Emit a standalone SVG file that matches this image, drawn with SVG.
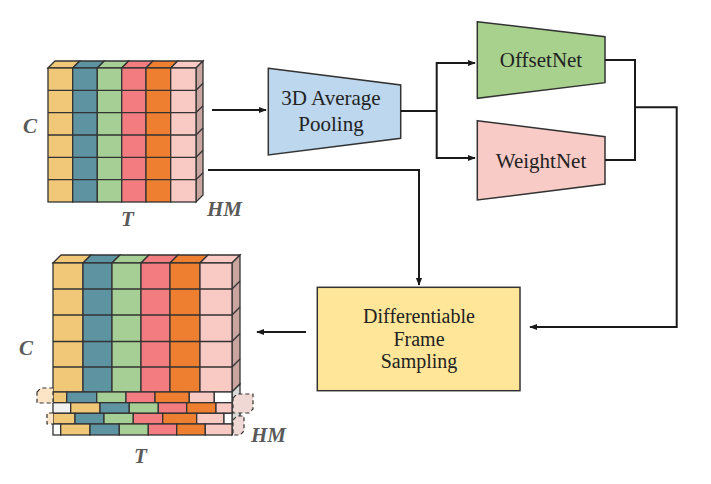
<svg xmlns="http://www.w3.org/2000/svg" width="711" height="484" viewBox="0 0 711 484">
<defs>
<marker id="ah" viewBox="0 0 10 10" refX="9" refY="5" markerWidth="8" markerHeight="8" markerUnits="userSpaceOnUse" orient="auto"><path d="M0,1 L10,5 L0,9 z" fill="#1a1a1a"/></marker>
<style>
.ln{fill:none;stroke:#1a1a1a;stroke-width:2}
.g{stroke:#333;stroke-width:1.3}
.y{fill:#F0C878}.t{fill:#5E93A1}.gr{fill:#A6CF95}.r{fill:#F27C80}.o{fill:#EE7E30}.p{fill:#F9C9C4}.w{fill:#F2F2F2}
.sd{fill:#C9A5A0}
.lbl{font-family:"Liberation Serif",serif;font-size:21px;fill:#222;text-anchor:middle}
.lbs{font-size:20px}
.ax{font-family:"Liberation Serif",serif;font-size:21px;font-weight:bold;font-style:italic;fill:#5A5A5A}
.dsh{stroke:#333;stroke-width:1.2;stroke-dasharray:4,3}
</style>
</defs>
<rect width="711" height="484" fill="#fff"/>

<g id="input-cube">
<g class="g">
<polygon class="y" points="48,68 55,61 79.7,61 72.7,68"/>
<polygon class="t" points="72.7,68 79.7,61 104.3,61 97.3,68"/>
<polygon class="gr" points="97.3,68 104.3,61 128.7,61 121.7,68"/>
<polygon class="r" points="121.7,68 128.7,61 153,61 146,68"/>
<polygon class="o" points="146,68 153,61 177.7,61 170.7,68"/>
<polygon class="p" points="170.7,68 177.7,61 203,61 196,68"/>
<polygon class="sd" points="196,68 203,61 203,195 196,202"/>
<rect class="y" x="48" y="68" width="24.7" height="134"/>
<rect class="t" x="72.7" y="68" width="24.6" height="134"/>
<rect class="gr" x="97.3" y="68" width="24.4" height="134"/>
<rect class="r" x="121.7" y="68" width="24.3" height="134"/>
<rect class="o" x="146" y="68" width="24.7" height="134"/>
<rect class="p" x="170.7" y="68" width="25.3" height="134"/>
</g>
<path class="g" fill="none" d="M48,90.3H196l7,-7 M48,112.7H196l7,-7 M48,135H196l7,-7 M48,157.3H196l7,-7 M48,179.7H196l7,-7"/>
<text class="ax" x="23" y="133">C</text>
<text class="ax" x="121" y="226">T</text>
<text class="ax" x="207" y="216">HM</text>
</g>

<g id="output-cube">
<g class="g">
<polygon class="y" points="53,263 61,255 91,255 83,263"/>
<polygon class="t" points="83,263 91,255 120,255 112,263"/>
<polygon class="gr" points="112,263 120,255 149,255 141,263"/>
<polygon class="r" points="141,263 149,255 178,255 170,263"/>
<polygon class="o" points="170,263 178,255 208,255 200,263"/>
<polygon class="p" points="200,263 208,255 240,255 232,263"/>
<polygon class="sd" points="232,263 240,255 240,384 232,392"/>
<polygon fill="#DADADA" points="232,392 240,384 240,427 232,435"/>
<rect class="y" x="53" y="263" width="30" height="129"/>
<rect class="t" x="83" y="263" width="29" height="129"/>
<rect class="gr" x="112" y="263" width="29" height="129"/>
<rect class="r" x="141" y="263" width="29" height="129"/>
<rect class="o" x="170" y="263" width="30" height="129"/>
<rect class="p" x="200" y="263" width="32" height="129"/>
</g>
<path class="g" fill="none" d="M53,289H232l8,-8 M53,315H232l8,-8 M53,341.5H232l8,-8 M53,367H232l8,-8 M232,402.7l8,-8 M232,413.3l8,-8 M232,424l8,-8"/>
<g class="g">
<rect class="y" x="53" y="392" width="13.7" height="10.7"/>
<rect class="t" x="66.7" y="392" width="30" height="10.7"/>
<rect class="gr" x="96.7" y="392" width="29.3" height="10.7"/>
<rect class="r" x="126" y="392" width="29" height="10.7"/>
<rect class="o" x="155" y="392" width="34.3" height="10.7"/>
<rect class="p" x="189.3" y="392" width="25" height="10.7"/>
<rect fill="#fff" x="214.3" y="392" width="17.7" height="10.7"/>
<rect class="w" x="53" y="402.7" width="17.7" height="10.6"/>
<rect class="y" x="70.7" y="402.7" width="29.3" height="10.6"/>
<rect class="t" x="100" y="402.7" width="29.3" height="10.6"/>
<rect class="gr" x="129.3" y="402.7" width="29" height="10.6"/>
<rect class="r" x="158.3" y="402.7" width="28.4" height="10.6"/>
<rect class="o" x="186.7" y="402.7" width="29.3" height="10.6"/>
<rect class="p" x="216" y="402.7" width="16" height="10.6"/>
<rect class="y" x="53" y="413.3" width="22" height="10.7"/>
<rect class="t" x="75" y="413.3" width="29" height="10.7"/>
<rect class="gr" x="104" y="413.3" width="29.3" height="10.7"/>
<rect class="r" x="133.3" y="413.3" width="29.4" height="10.7"/>
<rect class="o" x="162.7" y="413.3" width="34" height="10.7"/>
<rect class="p" x="196.7" y="413.3" width="27.3" height="10.7"/>
<rect fill="#fff" x="224" y="413.3" width="8" height="10.7"/>
<rect fill="#fff" x="53" y="424" width="7.7" height="11"/>
<rect class="y" x="60.7" y="424" width="29.3" height="11"/>
<rect class="t" x="90" y="424" width="29.3" height="11"/>
<rect class="gr" x="119.3" y="424" width="29" height="11"/>
<rect class="r" x="148.3" y="424" width="28.4" height="11"/>
<rect class="o" x="176.7" y="424" width="28.6" height="11"/>
<rect class="p" x="205.3" y="424" width="26.7" height="11"/>
</g>
<g class="dsh">
<polygon fill="#FBE5C6" points="37,392 41,388 53,388 53,403 37,403"/>
<path fill="#FBE5C6" d="M53,413 L47,413 L47,424 L53,424"/>
<polygon fill="#F0D8D4" points="233,398 237,394 253,394 253,409 249,413 233,413"/>
<polygon fill="#F0D8D4" points="233,420 237,416 244,416 244,431 240,435 233,435"/>
</g>
<text class="ax" x="19" y="355">C</text>
<text class="ax" x="134" y="463">T</text>
<text class="ax" x="251" y="442">HM</text>
</g>

<g id="pooling">
<polygon points="268.3,68.3 400.7,85 400.7,138.3 268.3,155" fill="#BDD7EE" stroke="#333" stroke-width="1.5"/>
<text class="lbl" x="331" y="105">3D Average</text>
<text class="lbl" x="331" y="131">Pooling</text>
</g>

<g id="offsetnet">
<polygon points="477.3,21.7 605,36.7 605,82.7 477.3,98.3" fill="#A9D18E" stroke="#333" stroke-width="1.5"/>
<text class="lbl" x="541" y="67">OffsetNet</text>
</g>

<g id="weightnet">
<polygon points="477.3,120.7 605,136.7 605,184 477.3,200" fill="#F8CBC6" stroke="#333" stroke-width="1.5"/>
<text class="lbl" x="541" y="168">WeightNet</text>
</g>

<g id="sampling">
<rect x="317.3" y="287.3" width="202.7" height="103.4" fill="#FFE699" stroke="#333" stroke-width="1.5"/>
<text class="lbl lbs" x="419" y="323">Differentiable</text>
<text class="lbl lbs" x="419" y="345.5">Frame</text>
<text class="lbl lbs" x="419" y="368">Sampling</text>
</g>

<g id="connectors">
<path class="ln" d="M212,110 H266" marker-end="url(#ah)"/>
<path class="ln" d="M400.7,111 H436.7"/>
<path class="ln" d="M436.7,110 V63 H475" marker-end="url(#ah)"/>
<path class="ln" d="M436.7,110 V158 H475" marker-end="url(#ah)"/>
<path class="ln" d="M605,60 H635 V160 H605"/>
<path class="ln" d="M635,107.3 H676.7 V327 H530" marker-end="url(#ah)"/>
<path class="ln" d="M208,170 H419 V285" marker-end="url(#ah)"/>
<path class="ln" d="M306,332 H257" marker-end="url(#ah)"/>
</g>
</svg>
